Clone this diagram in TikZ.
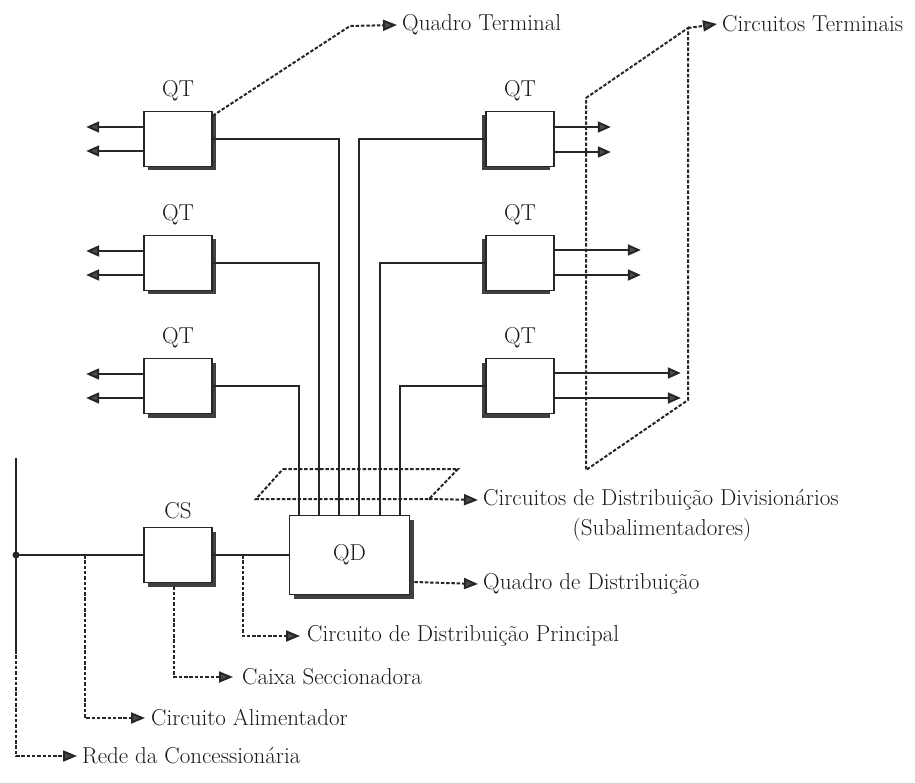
\documentclass[tikz,border=0pt]{standalone}
\usetikzlibrary{arrows.meta,shadows}
\begin{document}
\begin{tikzpicture}[x=1pt,y=-1pt,
  qbox/.style={draw=black!85,line width=1.6pt,fill=white,minimum width=68pt,minimum height=55pt,inner sep=0pt},
  lshadow/.style={drop shadow={shadow xshift=4pt,shadow yshift=-4pt,fill=black!75,opacity=1}},
  rshadow/.style={drop shadow={shadow xshift=-4pt,shadow yshift=-4pt,fill=black!75,opacity=1}},
  wire/.style={draw=black!85,line width=1.8pt},
  outarr/.style={draw=black!85,line width=2pt,-{Triangle[length=13pt,width=11pt,fill=black!70]}},
  ann/.style={draw=black!85,line width=2pt,dash pattern=on 3.5pt off 1.8pt},
  annarr/.style={ann,-{Triangle[length=14pt,width=11pt,fill=black!70]}},
  lbl/.style={text=black!90,font=\fontsize{23}{27}\selectfont,inner sep=0pt},
  txt/.style={lbl,anchor=west,inner sep=0pt,xshift=5pt},
  every label/.style={lbl}]
\useasboundingbox (0,0) rectangle (915,783);

% boxes
\node[qbox,lshadow,label={[label distance=10pt]above:QT}] (L1) at (178,139) {};
\node[qbox,lshadow,label={[label distance=10pt]above:QT}] (L2) at (178,263) {};
\node[qbox,lshadow,label={[label distance=10pt]above:QT}] (L3) at (178,386) {};
\node[qbox,rshadow,label={[label distance=10pt]above:QT}] (R1) at (520,139) {};
\node[qbox,rshadow,label={[label distance=10pt]above:QT}] (R2) at (520,263) {};
\node[qbox,rshadow,label={[label distance=10pt]above:QT}] (R3) at (520,386) {};
\node[qbox,lshadow,label={[label distance=8pt]above:CS}] (CS) at (178,555) {};
\node[qbox,lshadow,minimum width=120pt,minimum height=79pt,font=\fontsize{23}{27}\selectfont,text=black!90] (QD) at (349.5,555) {QD};

% drop coordinates
\coordinate (d1) at (299,0);
\coordinate (d2) at (319,0);
\coordinate (d3) at (339,0);
\coordinate (d4) at (359,0);
\coordinate (d5) at (380,0);
\coordinate (d6) at (400,0);

% subfeeders
\draw[wire] (L1.east) -| (d3 |- QD.north);
\draw[wire] (L2.east) -| (d2 |- QD.north);
\draw[wire] (L3.east) -| (d1 |- QD.north);
\draw[wire] (R1.west) -| (d4 |- QD.north);
\draw[wire] (R2.west) -| (d5 |- QD.north);
\draw[wire] (R3.west) -| (d6 |- QD.north);

% terminal circuits
\foreach \b in {L1,L2,L3}{
  \draw[outarr] ([yshift=12pt]\b.west) -- ++(-57,0);
  \draw[outarr] ([yshift=-12pt]\b.west) -- ++(-57,0);
}
\draw[outarr] ([yshift=12pt]R1.east) -- ++(56,0);
\draw[outarr] ([yshift=-13pt]R1.east) -- ++(56,0);
\draw[outarr] ([yshift=13pt]R2.east) -- ++(86,0);
\draw[outarr] ([yshift=-12pt]R2.east) -- ++(86,0);
\draw[outarr] ([yshift=13pt]R3.east) -- ++(126,0);
\draw[outarr] ([yshift=-12pt]R3.east) -- ++(126,0);

% supply line
\coordinate (top) at (16,458);
\coordinate (junc) at (16,555);
\coordinate (low) at (16,650);
\draw[wire] (top) -- (low);
\draw[wire] (junc) -- (CS.west);
\draw[wire] (CS.east) -- (QD.west);
\fill[black!85] (junc) circle (3.5pt);

% texts
\node[txt] (tQT) at (397,25) {Quadro Terminal};
\node[txt] (tCT) at (717,24) {Circuitos Terminais};
\node[txt] (tCD) at (478,500) {Circuitos de Distribuição Divisionários};
\node[lbl] (tCD2) at (662,530) {(Subalimentadores)};
\node[txt] (tQDd) at (478,584) {Quadro de Distribuição};
\node[txt,xshift=2pt] (tCDP) at (300,636) {Circuito de Distribuição Principal};
\node[txt,xshift=4pt] (tCS) at (233,677) {Caixa Seccionadora};
\node[txt,xshift=1pt] (tCA) at (145,718) {Circuito Alimentador};
\node[txt,xshift=0pt] (tRC) at (77,756) {Rede da Concessionária};

% annotation: Quadro Terminal
\coordinate (qtb) at (350,26);
\draw[annarr] ([yshift=-5pt]L1.north east) -- (qtb) -- ([xshift=-5pt]tQT.west);

% annotation: Circuitos Terminais plane
\coordinate (p1) at (586,98);
\coordinate (p2) at (688,28);
\coordinate (p3) at (688,400);
\coordinate (p4) at (586,470);
\draw[ann] (p1) -- (p2) -- (p3) -- (p4) -- cycle;
\draw[annarr] (p2) -- ([xshift=-5pt]tCT.west);

% annotation: subfeeder plane
\coordinate (s1) at (283,469);
\coordinate (s2) at (458,469);
\coordinate (s3) at (429,499);
\coordinate (s4) at (256,499);
\draw[ann] (s1) -- (s2) -- (s3) -- (s4) -- cycle;
\draw[annarr] (s3) -- ([xshift=-5pt]tCD.west);

% annotation: Quadro de Distribuicao
\draw[annarr] ([xshift=4pt,yshift=-27pt]QD.east) -- ([xshift=-5pt]tQDd.west);

% annotation: principal
\coordinate (cdp) at (243,555);
\draw[annarr] (cdp) |- ([xshift=-7pt]tCDP.west);

% annotation: caixa seccionadora
\draw[annarr] ([xshift=-4pt,yshift=-3pt]CS.south) |- ([xshift=-9pt]tCS.west);

% annotation: circuito alimentador
\coordinate (cal) at (85,555);
\draw[annarr] (cal) |- ([xshift=-6pt]tCA.west);

% annotation: rede
\draw[annarr] (low) |- ([xshift=-5pt]tRC.west);
\end{tikzpicture}
\end{document}
